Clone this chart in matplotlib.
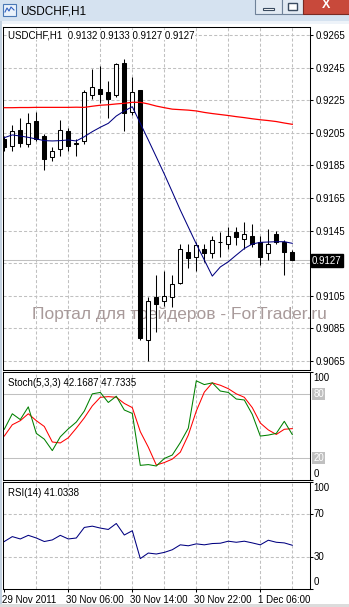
import numpy as np
import matplotlib
matplotlib.use("Agg")
from matplotlib import pyplot as plt
from matplotlib.patches import Rectangle
from matplotlib.transforms import ScaledTranslation, blended_transform_factory

plt.rcParams["font.family"] = ["Liberation Sans", "DejaVu Sans"]
plt.rcParams["lines.scale_dashes"] = False

## データ USDCHF H1 (29 Nov 22:00 - 1 Dec 10:00)
open_ = [0.9201, 0.9197, 0.9207, 0.9198, 0.9212, 0.9203, 0.9190, 0.9195, 0.9206, 0.9198,
         0.9200, 0.9228, 0.9232, 0.9230, 0.9228, 0.9248, 0.9218, 0.9231, 0.9078, 0.9104,
         0.9102, 0.9104, 0.9113, 0.9132, 0.9129, 0.9134, 0.9131, 0.9138, 0.9137, 0.9144,
         0.9140, 0.9142, 0.9138, 0.9131, 0.9143, 0.9138, 0.9132]
high = [0.9203, 0.9210, 0.9214, 0.9217, 0.9218, 0.9204, 0.9196, 0.9213, 0.9208, 0.9201,
        0.9231, 0.9244, 0.9246, 0.9237, 0.9248, 0.9250, 0.9239, 0.9231, 0.9104, 0.9118,
        0.9120, 0.9118, 0.9137, 0.9137, 0.9138, 0.9137, 0.9142, 0.9144, 0.9147, 0.9147,
        0.9150, 0.9149, 0.9142, 0.9146, 0.9145, 0.9139, 0.9133]
low = [0.9194, 0.9194, 0.9196, 0.9196, 0.9200, 0.9182, 0.9188, 0.9191, 0.9194, 0.9191,
       0.9198, 0.9226, 0.9223, 0.9214, 0.9227, 0.9206, 0.9216, 0.9078, 0.9065, 0.9083,
       0.9099, 0.9098, 0.9112, 0.9122, 0.9120, 0.9126, 0.9128, 0.9129, 0.9134, 0.9136,
       0.9134, 0.9135, 0.9124, 0.9127, 0.9137, 0.9118, 0.9127]
close = [0.9196, 0.9206, 0.9199, 0.9211, 0.9201, 0.9189, 0.9194, 0.9207, 0.9197, 0.9199,
         0.9230, 0.9233, 0.9229, 0.9226, 0.9247, 0.9217, 0.9230, 0.9079, 0.9102, 0.9100,
         0.9105, 0.9112, 0.9134, 0.9128, 0.9136, 0.9131, 0.9139, 0.9138, 0.9142, 0.9141,
         0.9143, 0.9137, 0.9129, 0.9137, 0.9138, 0.9132, 0.9127]

# 移動平均
ma_fast = [0.92020, 0.92037, 0.92030, 0.92022, 0.92012, 0.92002, 0.92000, 0.92002, 0.92006, 0.92000,
           0.92026, 0.92057, 0.92084, 0.92108, 0.92153, 0.92184, 0.92210, 0.92108, 0.92006, 0.91902,
           0.91797, 0.91687, 0.91576, 0.91472, 0.91368, 0.91270, 0.91171, 0.91227, 0.91259, 0.91300,
           0.91340, 0.91368, 0.91378, 0.91380, 0.91382, 0.91382, 0.91372]
ma_slow = [0.92204, 0.92204, 0.92205, 0.92205, 0.92206, 0.92206, 0.92206, 0.92206, 0.92206, 0.92207,
           0.92206, 0.92213, 0.92219, 0.92222, 0.92227, 0.92231, 0.92237, 0.92237, 0.92227, 0.92214,
           0.92204, 0.92195, 0.92192, 0.92189, 0.92184, 0.92175, 0.92168, 0.92162, 0.92156, 0.92149,
           0.92143, 0.92136, 0.92130, 0.92125, 0.92119, 0.92110, 0.92102]

# Stoch(5,3,3)
stoch_main = [47.1, 61.5, 56.1, 67.9, 43.3, 37.9, 27.3, 40.1, 47.5, 53.8,
              64.0, 80.0, 81.3, 72.0, 77.8, 65.0, 61.8, 13.6, 14.3, 13.0,
              20.0, 23.2, 34.7, 48.1, 92.1, 88.6, 90.2, 82.6, 81.3, 75.2,
              74.3, 60.9, 40.8, 41.7, 43.3, 54.5, 42.2]
stoch_signal = [40.8, 51.3, 55.1, 61.5, 55.1, 49.7, 35.3, 34.4, 39.2, 48.1,
                57.7, 68.8, 76.8, 77.4, 76.8, 71.1, 67.2, 44.9, 30.5, 13.9,
                16.2, 19.4, 25.8, 41.7, 64.0, 81.6, 90.2, 88.0, 84.8, 80.0,
                76.8, 67.2, 52.9, 46.5, 42.3, 47.1, 47.7]

# RSI(14)
rsi = [44.5, 49.1, 46.9, 50.3, 47.8, 44.5, 46.0, 50.3, 46.9, 47.8,
       57.7, 58.9, 57.1, 55.8, 61.4, 50.6, 54.6, 28.5, 33.7, 32.8,
       34.3, 36.8, 41.4, 40.5, 42.3, 41.4, 42.6, 42.9, 44.8, 43.8,
       44.8, 43.2, 41.4, 45.7, 43.8, 43.2, 41.0]

price_levels = [0.9065, 0.9085, 0.9105, 0.9125, 0.9145, 0.9165, 0.9185, 0.9205, 0.9225, 0.9245, 0.9265]
time_labels = ["29 Nov 2011", "30 Nov 06:00", "30 Nov 14:00", "30 Nov 22:00", "1 Dec 06:00"]
time_label_bars = [0, 8, 16, 24, 32]
grid_bars = [4, 8, 12, 16, 20, 24, 28, 32, 36]

W, H = 349, 607


def box(x0, y0, x1, y1):
    # ピクセル座標 -> figure座標
    return [x0 / W, 1 - y1 / H, (x1 - x0) / W, (y1 - y0) / H]


GRID = dict(color="#c0c0c0", lw=0.75, ls=(0, (2.2, 1.5)), zorder=0)
x = np.arange(len(close))
o = np.array(open_)
c = np.array(close)

fig = plt.figure(figsize=(W / 100, H / 100), dpi=100, facecolor="white")

## 背景 (ウィンドウ枠)
bg = fig.add_axes([0, 0, 1, 1])
bg.set_xlim(0, W)
bg.set_ylim(H, 0)
bg.axis("off")
bg.add_patch(Rectangle((0, 0), W, 21, fc="#d5e2f0", ec="none"))
bg.add_patch(Rectangle((0, 21), W, 2.5, fc="#eef3f9", ec="none"))
bg.add_patch(Rectangle((0, 21), 1.5, H, fc="#c3d1e0", ec="none"))
bg.add_patch(Rectangle((0, 603.5), W, 4, fc="#dcdcdc", ec="none"))
# アイコン
bg.add_patch(Rectangle((3, 4), 13, 12, fc="#eaf2fb", ec="#4a78b5", lw=0.8))
bg.plot([5, 7, 9, 11, 14], [12, 8, 11, 7, 10], color="#3060c0", lw=0.8)
bg.text(20, 11, "USDCHF,H1", fontsize=8.5, va="center", ha="left")
# ボタン
bg.add_patch(Rectangle((255, -3), 27, 17, fc="#e2eaf3", ec="#6f8299", lw=0.8))
bg.add_patch(Rectangle((263, 7.5), 11, 2.5, fc="white", ec="#3a4b60", lw=0.8))
bg.add_patch(Rectangle((282, -3), 21, 17, fc="#e2eaf3", ec="#6f8299", lw=0.8))
bg.add_patch(Rectangle((288, 2.5), 9, 7.5, fc="white", ec="#3a4b60", lw=1.0))
bg.add_patch(Rectangle((303, -3), 47, 17, fc="#c8493b", ec="#7a2a22", lw=0.8))
bg.text(326, 5.5, "X", fontsize=9, fontweight="bold", color="white", ha="center", va="center")
# ウォーターマーク
bg.text(32, 314, "Портал для трейдеров - ForTrader.ru", fontsize=12.5, color="#a89a9a",
        ha="left", va="center")

## メインチャート
ax = fig.add_axes(box(3.3, 26.5, 310.3, 370), facecolor="none")
ax.set_xlim(-0.125, 38.25)
ax.set_ylim(0.90595, 0.92702)
for b in grid_bars:
    ax.axvline(b, **GRID)
for p in price_levels:
    ax.axhline(p, **GRID)
ax.axhline(close[-1], color="#c0c0c0", lw=0.75, zorder=0.5)

up = c >= o
ax.vlines(x, low, high, color="black", lw=0.75, zorder=1)
ax.bar(x[up], (c - o)[up], bottom=o[up], width=0.5, fc="white", ec="black", lw=0.75, zorder=2)
ax.bar(x[~up], (c - o)[~up], bottom=o[~up], width=0.5, fc="black", ec="black", lw=0.75, zorder=2)

ax.plot(x, ma_slow, color="red", lw=0.9, zorder=3)
ax.plot(x, ma_fast, color="#000080", lw=0.75, zorder=3)

ax.yaxis.tick_right()
ax.set_yticks(price_levels, ["" if p == 0.9125 else f"{p:.4f}" for p in price_levels])
ax.tick_params(axis="y", length=2, width=0.75, pad=1.5, labelsize=7)
ax.tick_params(axis="x", bottom=False, labelbottom=False)
for s in ax.spines.values():
    s.set_linewidth(0.75)
fig.text(8 / W, 1 - 35 / H, "USDCHF,H1  0.9132 0.9133 0.9127 0.9127", fontsize=7, va="center",
         bbox=dict(boxstyle="square,pad=0.05", fc="white", ec="none"))
fig.text(312 / W, 1 - 260.5 / H, f"{close[-1]:.4f}", fontsize=7, color="white", va="center",
         bbox=dict(boxstyle="square,pad=0.15", fc="black", ec="black"))

## Stoch
ax2 = fig.add_axes(box(3.3, 372.3, 310.3, 480), facecolor="none")
ax2.set_xlim(-0.125, 38.25)
ax2.set_ylim(0, 100)
for b in grid_bars:
    ax2.axvline(b, **GRID)
for lv in [20, 80]:
    ax2.axhline(lv, color="#c0c0c0", lw=0.75, zorder=0)
ax2.plot(x, stoch_signal, color="red", lw=0.75)
ax2.plot(x, stoch_main, color="#008000", lw=0.75)
ax2.set_xticks([])
ax2.yaxis.tick_right()
ax2.set_yticks([0, 100], ["", ""])
ax2.tick_params(axis="y", length=2, width=0.75)
for s in ax2.spines.values():
    s.set_linewidth(0.75)
tr2 = blended_transform_factory(ax2.transAxes, ax2.transData)
ax2.text(1.01, 99, "100", transform=tr2, fontsize=7, va="top")
ax2.text(1.01, 1, "0", transform=tr2, fontsize=7, va="bottom")
for lv in [80, 20]:
    ax2.text(1.01, lv, str(lv), transform=tr2, fontsize=7, va="center", color="white",
             bbox=dict(boxstyle="square,pad=0.1", fc="#c0c0c0", ec="none"))
fig.text(8 / W, 1 - 382.5 / H, "Stoch(5,3,3) 42.1687 47.7335", fontsize=7, va="center")

## RSI
ax3 = fig.add_axes(box(3.3, 482.3, 310.3, 589), facecolor="none")
ax3.set_xlim(-0.125, 38.25)
ax3.set_ylim(0.5, 100)
for b in grid_bars:
    ax3.axvline(b, **GRID)
for lv in [30, 70]:
    ax3.axhline(lv, **GRID)
ax3.plot(x, rsi, color="#000080", lw=0.75)
ax3.yaxis.tick_right()
ax3.set_yticks([0, 30, 70, 100], ["", "", "", ""])
ax3.tick_params(axis="y", length=2, width=0.75)
tr3 = blended_transform_factory(ax3.transAxes, ax3.transData)
ax3.text(1.01, 99, "100", transform=tr3, fontsize=7, va="top")
ax3.text(1.01, 70, "70", transform=tr3, fontsize=7, va="center")
ax3.text(1.01, 30, "30", transform=tr3, fontsize=7, va="center")
ax3.text(1.01, 2, "0", transform=tr3, fontsize=7, va="bottom")
for s in ax3.spines.values():
    s.set_linewidth(0.75)
fig.text(8 / W, 1 - 492.5 / H, "RSI(14) 41.0338", fontsize=7, va="center")

ax3.set_xticks(time_label_bars, time_labels)
ax3.tick_params(axis="x", length=2.5, width=0.75, pad=1.5, labelsize=7)
shift = ScaledTranslation(-2 / 100, 0, fig.dpi_scale_trans)
for lab in ax3.get_xticklabels():
    lab.set_ha("left")
    lab.set_transform(lab.get_transform() + shift)

fig.savefig("out.png", dpi=100, facecolor="white")
